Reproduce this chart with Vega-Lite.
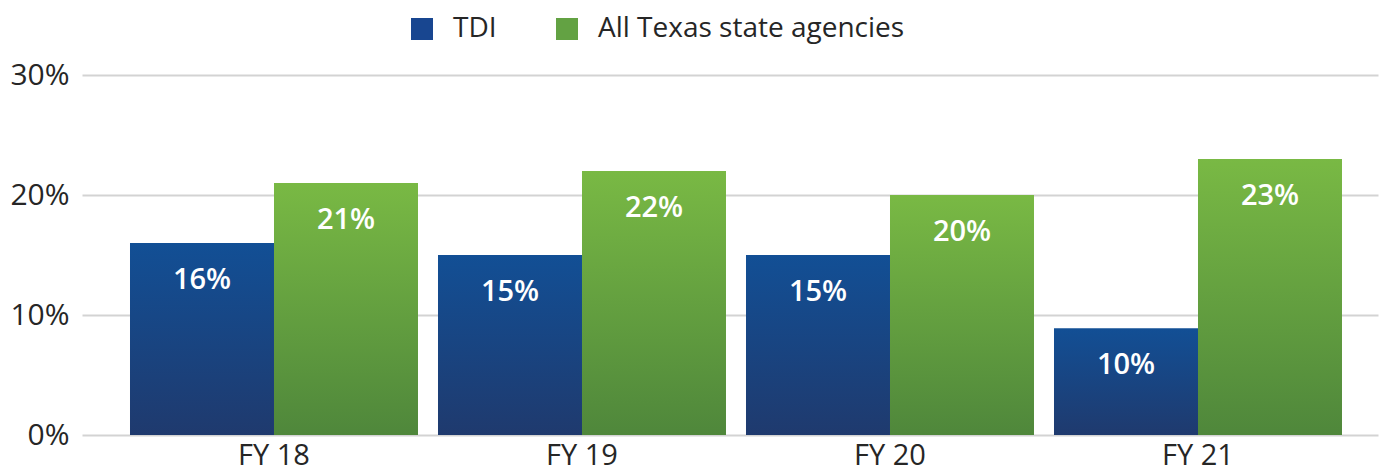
{
  "$schema": "https://vega.github.io/schema/vega-lite/v6.json",
  "autosize": "none",
  "width": 1296,
  "height": 360,
  "padding": {"left": 82, "top": 75, "right": 6, "bottom": 39},
  "background": "white",
  "config": {
    "view": {"stroke": null},
    "font": "Open Sans",
    "axis": {"labelFont": "Open Sans", "labelColor": "#262626"},
    "legend": {"labelFont": "Open Sans"}
  },
  "data": {
    "values": [
      {"year": "FY 18", "series": "TDI", "value": 16, "label": "16%"},
      {"year": "FY 18", "series": "All Texas state agencies", "value": 21, "label": "21%"},
      {"year": "FY 19", "series": "TDI", "value": 15, "label": "15%"},
      {"year": "FY 19", "series": "All Texas state agencies", "value": 22, "label": "22%"},
      {"year": "FY 20", "series": "TDI", "value": 15, "label": "15%"},
      {"year": "FY 20", "series": "All Texas state agencies", "value": 20, "label": "20%"},
      {"year": "FY 21", "series": "TDI", "value": 8.9, "label": "10%"},
      {"year": "FY 21", "series": "All Texas state agencies", "value": 23, "label": "23%"}
    ]
  },
  "encoding": {
    "x": {
      "field": "year", "type": "nominal", "sort": null,
      "scale": {"paddingInner": 0.064935, "paddingOuter": 0.136364, "align": 0.5714},
      "axis": {"title": null, "labelAngle": 0, "ticks": false, "domain": false, "labelFontSize": 29, "labelPadding": 6, "grid": false}
    },
    "xOffset": {
      "field": "series", "type": "nominal",
      "sort": ["TDI", "All Texas state agencies"],
      "scale": {"paddingInner": 0, "paddingOuter": 0}
    },
    "y": {
      "field": "value", "type": "quantitative",
      "scale": {"domain": [0, 30], "nice": false},
      "axis": {
        "title": null, "values": [0, 10, 20, 30], "labelExpr": "datum.value + '%'",
        "ticks": false, "domain": false, "labelFontSize": 30, "labelPadding": 13,
        "grid": true, "gridColor": "#d3d3d3", "gridWidth": 2
      }
    }
  },
  "layer": [
    {
      "transform": [{"filter": "false"}],
      "mark": {"type": "bar"},
      "encoding": {
        "color": {
          "field": "series", "type": "nominal",
          "scale": {"domain": ["TDI", "All Texas state agencies"], "range": ["#184690", "#63a243"]},
          "legend": {
            "title": null, "orient": "none", "direction": "horizontal",
            "legendX": 326, "legendY": -60,
            "symbolType": "square", "symbolSize": 484, "symbolStrokeWidth": 0, "symbolOpacity": 1,
            "labelFontSize": 28, "labelColor": "#262626", "labelOffset": 17, "labelLimit": 0,
            "columnPadding": 56
          }
        }
      }
    },
    {
      "mark": {"type": "bar"},
      "encoding": {
        "fill": {
          "condition": {
            "test": "datum.series === 'TDI'",
            "value": {"gradient": "linear", "x1": 0, "y1": 0, "x2": 0, "y2": 1,
              "stops": [{"offset": 0, "color": "#124f95"}, {"offset": 1, "color": "#1f3a6e"}]}
          },
          "value": {"gradient": "linear", "x1": 0, "y1": 0, "x2": 0, "y2": 1,
            "stops": [{"offset": 0, "color": "#79b944"}, {"offset": 1, "color": "#4f873b"}]}
        }
      }
    },
    {
      "mark": {"type": "text", "color": "white", "fontSize": 29, "fontWeight": 600, "baseline": "middle", "dy": 37},
      "encoding": {
        "text": {"field": "label", "type": "nominal"}
      }
    }
  ]
}
